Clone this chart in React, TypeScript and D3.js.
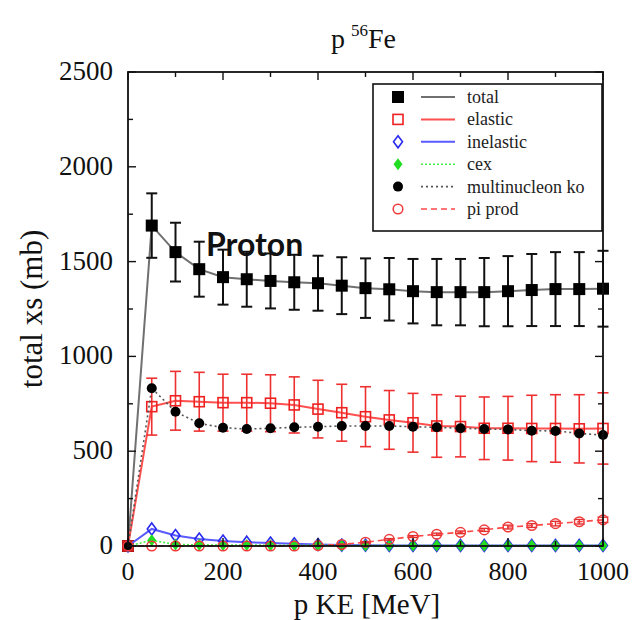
import React from "react";
import * as d3 from "d3";

const energies = [0, 50, 100, 150, 200, 250, 300, 350, 400, 450, 500, 550, 600, 650, 700, 750, 800, 850, 900, 950, 1000];
const total = [0, 1690, 1550, 1460, 1418, 1407, 1398, 1391, 1386, 1373, 1360, 1354, 1344, 1339, 1339, 1339, 1344, 1350, 1355, 1355, 1357];
const totalErr = [0, 170, 155, 145, 145, 145, 145, 145, 145, 150, 157, 165, 170, 175, 175, 180, 185, 190, 195, 195, 200];
const elastic = [0, 735, 766, 761, 756, 756, 753, 744, 722, 703, 682, 665, 650, 633, 630, 621, 621, 620, 620, 618, 620];
const elasticErr = [0, 150, 155, 155, 150, 150, 150, 148, 152, 150, 158, 155, 155, 165, 160, 165, 168, 175, 178, 180, 188];
const inelastic = [0, 90, 55, 37, 26, 20, 16, 12, 8, 5, 4, 3, 3, 3, 3, 3, 3, 3, 3, 3, 3];
const cex = [0, 30, 8, 6, 5, 5, 4, 4, 4, 3, 3, 3, 2, 2, 2, 2, 2, 2, 2, 2, 2];
const multinucleon = [0, 832, 708, 647, 624, 617, 621, 626, 629, 633, 633, 633, 629, 626, 621, 617, 615, 608, 607, 594, 585];
const multinucleonErr = [0, 128, 110, 105, 98, 100, 100, 102, 105, 105, 110, 110, 115, 118, 120, 122, 125, 128, 130, 132, 135];
const piProd = [0, 0, 0, 0, 0, 0, 0, 0, 2, 8, 20, 35, 50, 62, 72, 85, 100, 108, 118, 128, 138];
const piProdErr = [0, 0, 0, 0, 0, 0, 0, 0, 1, 2, 3, 4, 5, 6, 7, 8, 10, 10, 12, 12, 14];

const yTicks = [0, 500, 1000, 1500, 2000, 2500];
const xTicks = [0, 200, 400, 600, 800, 1000];
const legendLabels = ["total", "elastic", "inelastic", "cex", "multinucleon ko", "pi prod"];

const W = 636, H = 620;
const x = d3.scaleLinear().domain([0, 1000]).range([128, 603]);
const y = d3.scaleLinear().domain([0, 2500]).range([546, 72]);
const serif = "'Liberation Serif', 'DejaVu Serif', serif";

type Sym = "sqFill" | "sqOpen" | "diaOpen" | "diaFill" | "circFill" | "circOpen";

function Marker({ kind, cx, cy, color }: { kind: Sym; cx: number; cy: number; color: string }) {
  switch (kind) {
    case "sqFill":
      return <rect x={cx - 6} y={cy - 6} width={12} height={12} fill={color} />;
    case "sqOpen":
      return <rect x={cx - 5} y={cy - 5} width={10} height={10} fill="none" stroke={color} strokeWidth={1.6} />;
    case "diaOpen":
      return <path d={`M${cx},${cy - 6}L${cx + 4.5},${cy}L${cx},${cy + 6}L${cx - 4.5},${cy}Z`} fill="none" stroke={color} strokeWidth={1.6} />;
    case "diaFill":
      return <path d={`M${cx},${cy - 6}L${cx + 4.5},${cy}L${cx},${cy + 6}L${cx - 4.5},${cy}Z`} fill={color} />;
    case "circFill":
      return <circle cx={cx} cy={cy} r={5} fill={color} />;
    case "circOpen":
      return <circle cx={cx} cy={cy} r={4.8} fill="none" stroke={color} strokeWidth={1.5} />;
  }
}

interface Series {
  name: string;
  values: number[];
  err?: number[];
  sym: Sym;
  symColor: string;
  lineColor: string;
  lineWidth: number;
  dash?: string;
  errColor?: string;
  errWidth?: number;
}

const series: Series[] = [
  { name: legendLabels[0], values: total, err: totalErr, sym: "sqFill", symColor: "#000", lineColor: "#707070", lineWidth: 2, errColor: "#111", errWidth: 2 },
  { name: legendLabels[1], values: elastic, err: elasticErr, sym: "sqOpen", symColor: "#ee2020", lineColor: "#ff5050", lineWidth: 2, errColor: "#ee3030", errWidth: 1.6 },
  { name: legendLabels[2], values: inelastic, sym: "diaOpen", symColor: "#2a2aee", lineColor: "#5a5aff", lineWidth: 2 },
  { name: legendLabels[3], values: cex, sym: "diaFill", symColor: "#22dd22", lineColor: "#44ee44", lineWidth: 1.6, dash: "2,2" },
  { name: legendLabels[4], values: multinucleon, err: multinucleonErr, sym: "circFill", symColor: "#000", lineColor: "#555", lineWidth: 1.6, dash: "2,3" },
  { name: legendLabels[5], values: piProd, err: piProdErr, sym: "circOpen", symColor: "#f03a3a", lineColor: "#ff4a4a", lineWidth: 1.6, dash: "6,4", errColor: "#e03030", errWidth: 1.4 },
];

export default function App() {
  const line = d3.line<number>().x((_, i) => x(energies[i])).y((v) => y(v));
  const leg = { x0: 373, y0: 84, x1: 602, y1: 231 };
  const legRowY = (i: number) => 97 + i * 22.4;

  const yMinor = d3.range(0, 2501, 250);
  const xMinor = d3.range(0, 1001, 100);

  return (
    <svg width={W} height={H} style={{ position: "absolute", left: 0, top: 0, background: "#fff" }}>
      <rect width={W} height={H} fill="#fff" />
      {/* title */}
      <text x={331} y={48} fontFamily={serif} fontSize={28} fill="#111">
        p
        <tspan dx={6} dy={-12} fontSize={17}>56</tspan>
        <tspan dy={12}>Fe</tspan>
      </text>

      {/* series */}
      {series.map((s) => (
        <g key={s.name}>
          <path d={line(s.values) || ""} fill="none" stroke={s.lineColor} strokeWidth={s.lineWidth} strokeDasharray={s.dash} />
          {s.err &&
            s.values.map((v, i) => {
              const e = s.err![i];
              if (!e) return null;
              const cx = x(energies[i]);
              const t = y(v + e), b = y(v - e);
              return (
                <g key={i} stroke={s.errColor} strokeWidth={s.errWidth}>
                  <line x1={cx} x2={cx} y1={t} y2={b} />
                  <line x1={cx - 5.5} x2={cx + 5.5} y1={t} y2={t} />
                  <line x1={cx - 5.5} x2={cx + 5.5} y1={b} y2={b} />
                </g>
              );
            })}
          {s.values.map((v, i) => (
            <Marker key={i} kind={s.sym} cx={x(energies[i])} cy={y(v)} color={s.symColor} />
          ))}
        </g>
      ))}

      {/* frame */}
      <rect x={128} y={72} width={475} height={474} fill="none" stroke="#111" strokeWidth={1.8} />
      {yMinor.map((v) => {
        const len = v % 500 === 0 ? 8 : 5;
        return (
          <g key={"yt" + v} stroke="#111" strokeWidth={1.4}>
            <line x1={128} x2={128 + len} y1={y(v)} y2={y(v)} />
            <line x1={603} x2={603 - len} y1={y(v)} y2={y(v)} />
          </g>
        );
      })}
      {xMinor.map((v) => {
        const len = v % 200 === 0 ? 8 : 5;
        return (
          <g key={"xt" + v} stroke="#111" strokeWidth={1.4}>
            <line x1={x(v)} x2={x(v)} y1={546} y2={546 - len} />
            <line x1={x(v)} x2={x(v)} y1={72} y2={72 + len} />
          </g>
        );
      })}

      {/* tick labels */}
      {yTicks.map((v) => (
        <text key={"yl" + v} x={113} y={y(v) + 8} textAnchor="end" fontFamily={serif} fontSize={27} fill="#111">
          {v}
        </text>
      ))}
      {xTicks.map((v) => (
        <text key={"xl" + v} x={x(v)} y={580} textAnchor="middle" fontFamily={serif} fontSize={26} fill="#111">
          {v}
        </text>
      ))}

      {/* axis titles */}
      <text x={367} y={614} textAnchor="middle" fontFamily={serif} fontSize={29} fill="#111">
        p KE [MeV]
      </text>
      <text transform={`translate(42,309) rotate(-90)`} textAnchor="middle" fontFamily={serif} fontSize={31} fill="#111">
        total xs (mb)
      </text>

      {/* annotation */}
      <text x={206} y={256} fontFamily="Lato, 'Open Sans', sans-serif" fontWeight={700} fontSize={32} fill="#111">
        Proton
      </text>

      {/* legend */}
      <rect x={leg.x0} y={leg.y0} width={leg.x1 - leg.x0} height={leg.y1 - leg.y0} fill="#fff" stroke="#111" strokeWidth={1.6} />
      {series.map((s, i) => {
        const ly = legRowY(i);
        return (
          <g key={"lg" + i}>
            <Marker kind={s.sym} cx={398} cy={ly} color={s.symColor} />
            <line x1={421} x2={455} y1={ly} y2={ly} stroke={s.lineColor} strokeWidth={s.lineWidth} strokeDasharray={s.dash} />
            <text x={467} y={ly + 6} fontFamily={serif} fontSize={18} fill="#222">
              {s.name}
            </text>
          </g>
        );
      })}
    </svg>
  );
}
